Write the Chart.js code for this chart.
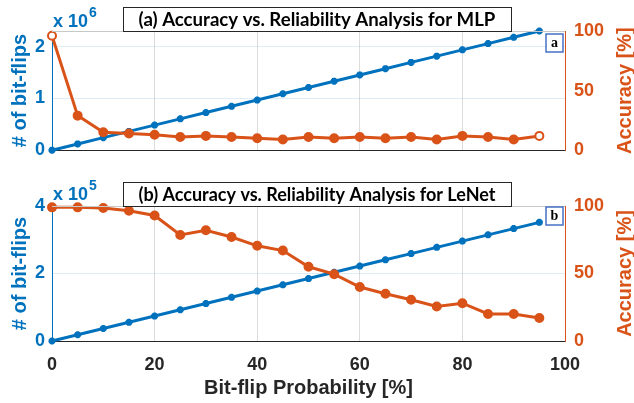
<!DOCTYPE html>
<html>
<head>
<meta charset="utf-8">
<script src="https://cdn.jsdelivr.net/npm/chart.js@4.4.1/dist/chart.umd.min.js"></script>
<style>
  body { margin: 0; background: #fff; }
  #wrap { position: relative; width: 634px; height: 403px; overflow: hidden; }
  canvas { position: absolute; left: 0; }
</style>
</head>
<body>
<div id="wrap">
  <canvas id="mlpChart" width="634" height="170" style="top:0"></canvas>
  <canvas id="lenetChart" width="634" height="228" style="top:175px"></canvas>
</div>
<script>
// bit-flip probability in %
const probability = [0, 5, 10, 15, 20, 25, 30, 35, 40, 45, 50, 55, 60, 65, 70, 75, 80, 85, 90, 95];

// (a) MLP
const mlpBitFlips = [0, 121000, 242000, 363000, 484000, 605000, 726000, 847000, 968000, 1089000,
    1210000, 1331000, 1452000, 1573000, 1694000, 1815000, 1936000, 2057000, 2178000, 2300000];
const mlpAccuracy = [96, 29, 15, 14, 13, 11, 12, 11, 10, 9, 11, 10, 11, 10, 11, 9, 12, 11, 9, 12];

// (b) LeNet
const lenetBitFlips = [0, 18500, 37000, 55500, 74000, 92500, 111000, 129500, 148000, 166500,
    185000, 203500, 222000, 240500, 259000, 277500, 296000, 314500, 333000, 351500];
const lenetAccuracy = [99, 99, 98.5, 96.5, 93, 78.5, 82, 77, 70.5, 67, 55, 49.5, 40, 35, 30.5, 25.5, 28, 20, 20, 17];

const xTicks = [0, 20, 40, 60, 80, 100];

const BLUE = '#0072BD';
const ORANGE = '#D95319';
const DARK = '#262626';

function pts(ys) {
    return ys.map((y, i) => ({ x: probability[i], y: y }));
}

// boxed title, exponent label, axis titles and the small letter box
const decorations = {
    id: 'decorations',
    afterDraw(chart, args, opts) {
        const c = chart.ctx;
        const a = chart.chartArea;
        c.save();

        // top border of the box
        c.strokeStyle = '#c8c8c8';
        c.lineWidth = 1;
        c.beginPath();
        c.moveTo(a.left, a.top + 0.5);
        c.lineTo(a.right, a.top + 0.5);
        c.stroke();

        // exponent "x 10^n"
        c.fillStyle = BLUE;
        c.textBaseline = 'alphabetic';
        c.textAlign = 'left';
        c.font = 'bold 18px "Liberation Sans", Arial, sans-serif';
        c.fillText('x 10', a.left + 1, a.top - opts.expDrop);
        const w = c.measureText('x 10').width;
        c.font = 'bold 14px "Liberation Sans", Arial, sans-serif';
        c.fillText(opts.exponent, a.left + 2 + w, a.top - opts.expDrop - 10);

        // title box
        const bx = 123, bw = 388, bh = 24;
        const by = a.top - bh;
        c.fillStyle = '#fff';
        c.fillRect(bx, by, bw, bh);
        c.strokeStyle = '#262626';
        c.lineWidth = 1;
        c.strokeRect(bx + 0.5, by + 0.5, bw, bh);
        let size = 18;
        c.font = 'bold ' + size + 'px Lato, "Open Sans", sans-serif';
        size = size * 357 / c.measureText(opts.title).width;
        c.font = 'bold ' + size.toFixed(2) + 'px Lato, "Open Sans", sans-serif';
        c.fillStyle = '#000';
        c.textAlign = 'center';
        c.textBaseline = 'middle';
        c.fillText(opts.title, bx + bw / 2, by + bh / 2 + 1);

        // axis titles
        const cy = (a.top + a.bottom) / 2;
        c.font = 'bold 20px "Liberation Sans", Arial, sans-serif';
        c.save();
        c.translate(20, cy);
        c.rotate(-Math.PI / 2);
        c.fillStyle = BLUE;
        c.fillText('# of bit-flips', 0, 0);
        c.restore();
        c.save();
        c.translate(625, cy);
        c.rotate(-Math.PI / 2);
        c.fillStyle = ORANGE;
        c.fillText('Accuracy [%]', 0, 0);
        c.restore();

        // letter box
        const lx = a.right - 19, ly = a.top + opts.letterTop;
        c.fillStyle = '#fff';
        c.fillRect(lx, ly, 17, 18);
        c.strokeStyle = '#4472C4';
        c.lineWidth = 1.5;
        c.strokeRect(lx, ly, 17, 18);
        c.fillStyle = '#000';
        c.font = 'bold 14px "Liberation Serif", "DejaVu Serif", serif';
        c.fillText(opts.letter, lx + 8.5, ly + 9.5);

        if (opts.xTitle) {
            c.fillStyle = DARK;
            c.font = 'bold 20px "Liberation Sans", Arial, sans-serif';
            c.fillText(opts.xTitle, (a.left + a.right) / 2, 213);
        }
        c.restore();
    }
};

function makeChart(canvasId, flips, acc, cfg) {
    const ctx = document.getElementById(canvasId).getContext('2d');
    return new Chart(ctx, {
        type: 'line',
        data: {
            datasets: [{
                label: 'Accuracy',
                data: pts(acc),
                yAxisID: 'yAcc',
                borderColor: ORANGE,
                backgroundColor: ORANGE,
                pointBackgroundColor: cfg.hollow,
                pointBorderColor: ORANGE,
                borderWidth: 3,
                pointRadius: 4,
                pointBorderWidth: 2,
                clip: false,
                order: 1
            }, {
                label: '# of bit-flips',
                data: pts(flips),
                yAxisID: 'yFlips',
                borderColor: BLUE,
                backgroundColor: BLUE,
                borderWidth: 3,
                pointStyle: 'star',
                pointRadius: 3.5,
                pointBorderWidth: 2.5,
                clip: false,
                order: 2
            }]
        },
        options: {
            responsive: false,
            animation: false,
            devicePixelRatio: 1,
            layout: { padding: { top: 31, left: 0, right: 0, bottom: 0 } },
            plugins: {
                legend: { display: false },
                tooltip: { enabled: false },
                decorations: cfg.deco
            },
            scales: {
                x: {
                    type: 'linear',
                    min: 0,
                    max: 100,
                    afterBuildTicks: s => { s.ticks = xTicks.map(v => ({ value: v })); },
                    afterFit: s => { s.height = cfg.xHeight; },
                    grid: { color: '#dcdcdc', drawTicks: false, lineWidth: 1 },
                    border: { color: DARK, width: 1 },
                    ticks: {
                        display: cfg.showX,
                        color: DARK,
                        padding: 13,
                        maxRotation: 0,
                        font: { family: '"Liberation Sans", Arial, sans-serif', size: 18, weight: 'bold' }
                    }
                },
                yFlips: {
                    position: 'left',
                    min: 0,
                    max: cfg.flipsMax,
                    afterBuildTicks: s => { s.ticks = cfg.flipTicks.map(v => ({ value: v })); },
                    afterFit: s => { s.width = 52; },
                    grid: { color: 'rgba(0,114,189,0.13)', drawTicks: false },
                    border: { color: BLUE, width: 1 },
                    ticks: {
                        color: BLUE,
                        padding: 7,
                        callback: v => String(v / cfg.scale),
                        font: { family: '"Liberation Sans", Arial, sans-serif', size: 18, weight: 'bold' }
                    }
                },
                yAcc: {
                    position: 'right',
                    min: 0,
                    max: 100,
                    afterBuildTicks: s => { s.ticks = [0, 50, 100].map(v => ({ value: v })); },
                    afterFit: s => { s.width = 69; },
                    grid: { display: false, drawTicks: false },
                    border: { color: ORANGE, width: 1 },
                    ticks: {
                        color: ORANGE,
                        padding: 9,
                        font: { family: '"Liberation Sans", Arial, sans-serif', size: 18, weight: 'bold' }
                    }
                }
            }
        },
        plugins: [decorations]
    });
}

makeChart('mlpChart', mlpBitFlips, mlpAccuracy, {
    flipsMax: 2300000,
    flipTicks: [0, 1000000, 2000000],
    scale: 1000000,
    xHeight: 3,
    showX: false,
    hollow: mlpAccuracy.map((v, i) => (i === 0 || i === mlpAccuracy.length - 1) ? '#fff' : ORANGE),
    deco: { title: '(a) Accuracy vs. Reliability Analysis for MLP', exponent: '6', expDrop: 4, letter: 'a', letterTop: 3 }
});

makeChart('lenetChart', lenetBitFlips, lenetAccuracy, {
    flipsMax: 400000,
    flipTicks: [0, 200000, 400000],
    scale: 100000,
    xHeight: 62,
    showX: true,
    hollow: ORANGE,
    deco: { title: '(b) Accuracy vs. Reliability Analysis for LeNet', exponent: '5', expDrop: 6, letter: 'b', letterTop: 1, xTitle: 'Bit-flip Probability [%]' }
});
</script>
</body>
</html>
